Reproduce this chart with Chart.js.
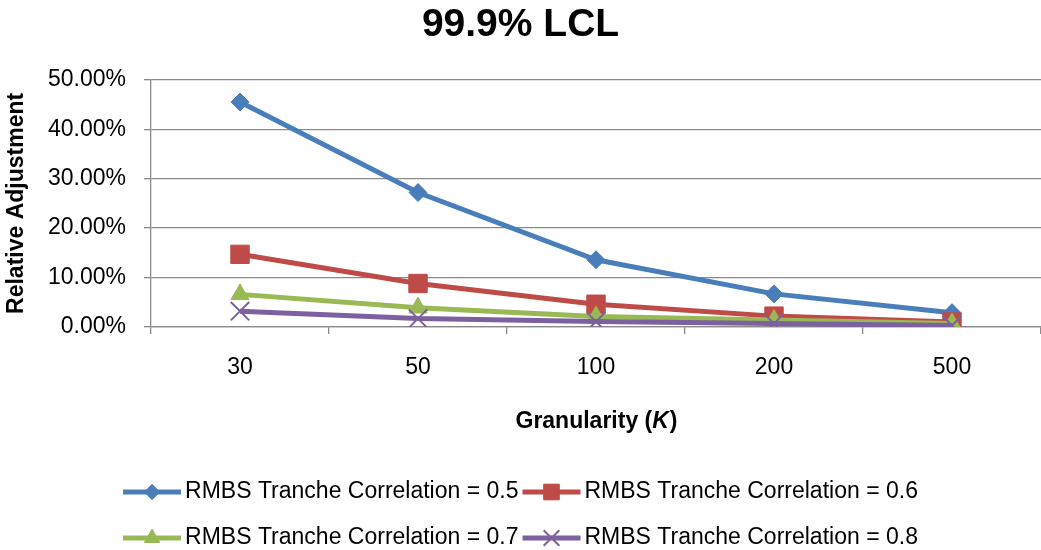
<!DOCTYPE html>
<html>
<head>
<meta charset="utf-8">
<title>99.9% LCL</title>
<script src="https://cdn.jsdelivr.net/npm/chart.js@4/dist/chart.umd.min.js"></script>
<style>
  html, body { margin: 0; padding: 0; background: #fff; }
  canvas { display: block; }
</style>
</head>
<body>
<canvas id="lclChart" width="1041" height="550"></canvas>
<script>
// granularity buckets on the x axis
const granularity = ['30', '50', '100', '200', '500'];

// relative adjustment per tranche correlation (fractions)
const corr05 = [0.455, 0.272, 0.136, 0.067, 0.029];
const corr06 = [0.147, 0.088, 0.046, 0.022, 0.010];
const corr07 = [0.066, 0.039, 0.021, 0.014, 0.007];
const corr08 = [0.032, 0.017, 0.011, 0.007, 0.003];

const seriesNames = [
    'RMBS Tranche Correlation = 0.5',
    'RMBS Tranche Correlation = 0.6',
    'RMBS Tranche Correlation = 0.7',
    'RMBS Tranche Correlation = 0.8'
];

const yTicks = [0, 0.1, 0.2, 0.3, 0.4, 0.5];

const FONT = '"Liberation Sans", Arial, sans-serif';
const GRID = '#8a8a8a';

Chart.defaults.font.family = FONT;
Chart.defaults.color = '#000';

function makeSeries(label, data, color, style, radius, order, borderW) {
    return {
        label: label,
        data: data,
        borderColor: color,
        backgroundColor: color,
        borderWidth: 5,
        pointStyle: style,
        pointRadius: radius,
        pointHoverRadius: radius,
        pointBackgroundColor: color,
        pointBorderColor: color,
        pointBorderWidth: borderW,
        tension: 0,
        order: order
    };
}

// legend rows (two per row) with line + marker, and the x title with italic K
const extrasPlugin = {
    id: 'extras',
    afterDraw(chart) {
        const ctx = chart.ctx;
        const xScale = chart.scales.x;
        ctx.save();

        // x axis title
        const partA = 'Granularity (';
        const partB = 'K';
        const partC = ')';
        ctx.textBaseline = 'middle';
        ctx.fillStyle = '#000';
        ctx.font = 'bold 23px ' + FONT;
        const wA = ctx.measureText(partA).width;
        const wC = ctx.measureText(partC).width;
        ctx.font = 'italic bold 23px ' + FONT;
        const wB = ctx.measureText(partB).width;
        const cx = (xScale.left + xScale.right) / 2;
        let tx = cx - (wA + wB + wC) / 2;
        const ty = 422;
        ctx.font = 'bold 23px ' + FONT;
        ctx.fillText(partA, tx, ty);
        ctx.font = 'italic bold 23px ' + FONT;
        ctx.fillText(partB, tx + wA, ty);
        ctx.font = 'bold 23px ' + FONT;
        ctx.fillText(partC, tx + wA + wB + 1, ty);

        // legend
        const symW = 58, gapText = 4, gapItem = 4;
        ctx.font = '23px ' + FONT;
        const sets = chart.data.datasets;
        const rows = [[0, 1], [2, 3]];
        const rowY = [492, 538];
        rows.forEach((row, r) => {
            const widths = row.map(i => symW + gapText + ctx.measureText(sets[i].label).width);
            const total = widths.reduce((a, b) => a + b, 0) + gapItem * (row.length - 1);
            let x = chart.width / 2 - total / 2;
            row.forEach((i, k) => {
                const ds = sets[i];
                const y = rowY[r];
                ctx.strokeStyle = ds.borderColor;
                ctx.fillStyle = ds.borderColor;
                ctx.lineWidth = 5;
                ctx.beginPath();
                ctx.moveTo(x, y);
                ctx.lineTo(x + symW, y);
                ctx.stroke();
                ctx.lineWidth = ds.pointBorderWidth;
                Chart.helpers.drawPoint(ctx, {
                    pointStyle: ds.pointStyle,
                    radius: ds.pointRadius * 0.85,
                    rotation: 0,
                    borderWidth: ds.pointBorderWidth
                }, x + symW / 2, y);
                ctx.fillStyle = '#000';
                ctx.textAlign = 'left';
                ctx.fillText(ds.label, x + symW + gapText, y);
                x += widths[k] + gapItem;
            });
        });
        ctx.restore();
    }
};

new Chart(document.getElementById('lclChart'), {
    type: 'line',
    data: {
        labels: granularity,
        datasets: [
            makeSeries(seriesNames[0], corr05, '#4A7EBB', 'rectRot', 9, 4, 1),
            makeSeries(seriesNames[1], corr06, '#BE4B48', 'rect', 13, 3, 1),
            makeSeries(seriesNames[2], corr07, '#98B954', 'triangle', 10.5, 2, 1),
            makeSeries(seriesNames[3], corr08, '#7D60A0', 'crossRot', 13, 1, 2)
        ]
    },
    options: {
        responsive: false,
        animation: false,
        layout: {
            autoPadding: false,
            padding: { top: 0, left: 0, right: 0, bottom: 114 }
        },
        plugins: {
            legend: { display: false },
            tooltip: { enabled: false },
            title: {
                display: true,
                text: '99.9% LCL',
                color: '#000',
                font: { size: 39, weight: 'bold', family: FONT },
                padding: { top: 2, bottom: 31 }
            }
        },
        scales: {
            x: {
                offset: true,
                grid: {
                    offset: true,
                    drawOnChartArea: false,
                    drawTicks: true,
                    tickLength: 7,
                    color: GRID,
                    lineWidth: 1.3
                },
                border: { color: GRID, width: 1.3 },
                ticks: { font: { size: 23 }, padding: 20, color: '#000' },
                afterFit(scale) {
                    scale.height = 109;
                    scale.paddingLeft = 0;
                    scale.paddingRight = 0;
                }
            },
            y: {
                min: 0,
                max: 0.5,
                afterBuildTicks(scale) {
                    scale.ticks = yTicks.map(v => ({ value: v }));
                },
                grid: {
                    color: GRID,
                    lineWidth: 1.3,
                    tickLength: 7
                },
                border: { color: GRID, width: 1.3 },
                ticks: {
                    font: { size: 23 },
                    padding: 18,
                    color: '#000',
                    callback: v => (v * 100).toFixed(2) + '%'
                },
                title: {
                    display: true,
                    text: 'Relative Adjustment',
                    font: { size: 23, weight: 'bold' },
                    padding: { top: 3, bottom: 0 }
                },
                afterFit(scale) { scale.width = 151; }
            }
        }
    },
    plugins: [extrasPlugin]
});
</script>
</body>
</html>
